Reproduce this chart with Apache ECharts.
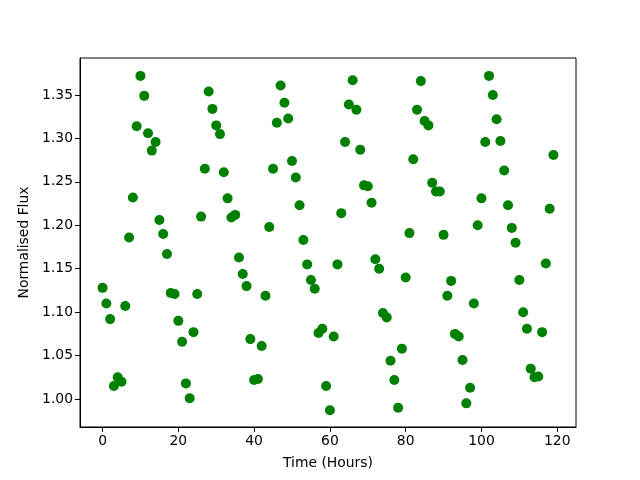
<!DOCTYPE html>
<html><head><meta charset="utf-8">
<script src="https://cdn.jsdelivr.net/npm/echarts@6/dist/echarts.min.js"></script>
<style>html,body{margin:0;padding:0;background:#fff}#c{width:640px;height:480px}</style>
</head><body><div id="c"></div>
<script>
const timeHours = Array.from({length:120},(_,i)=>i);
const flux = [
1.128,1.110,1.092,1.015,1.025,1.020,1.107,1.186,1.232,1.314,
1.372,1.349,1.306,1.286,1.296,1.206,1.190,1.167,1.122,1.121,
1.090,1.066,1.018,1.001,1.077,1.121,1.210,1.265,1.354,1.334,
1.315,1.305,1.261,1.231,1.209,1.212,1.163,1.144,1.130,1.069,
1.022,1.023,1.061,1.119,1.198,1.265,1.318,1.361,1.341,1.323,
1.274,1.255,1.223,1.183,1.155,1.137,1.127,1.076,1.081,1.015,
0.987,1.072,1.155,1.214,1.296,1.339,1.367,1.333,1.287,1.246,
1.245,1.226,1.161,1.150,1.099,1.094,1.044,1.022,0.990,1.058,
1.140,1.191,1.276,1.333,1.366,1.320,1.315,1.249,1.239,1.239,
1.189,1.119,1.136,1.075,1.072,1.045,0.995,1.013,1.110,1.200,
1.231,1.296,1.372,1.350,1.322,1.297,1.263,1.223,1.197,1.180,
1.137,1.100,1.081,1.035,1.025,1.026,1.077,1.156,1.219,1.281
];
const xTicks = [0,20,40,60,80,100,120];
const yTicks = [1.00,1.05,1.10,1.15,1.20,1.25,1.30,1.35];

const data = timeHours.map((t,i)=>[t,flux[i]]);
const chart = echarts.init(document.getElementById('c'),null,{renderer:'canvas'});
const font = 'DejaVu Sans';
chart.setOption({
  animation:false,
  backgroundColor:'#fff',
  grid:{left:80,right:64,top:58,bottom:53,show:true,borderColor:'#000',borderWidth:1,backgroundColor:'transparent'},
  xAxis:{type:'value',min:-5.95,max:124.95,
    name:'Time (Hours)',nameLocation:'middle',nameGap:29,
    nameTextStyle:{fontFamily:font,fontSize:13.9,color:'#000'},
    axisLine:{show:true,onZero:false,lineStyle:{color:'#000',width:1}},
    axisTick:{show:true,length:5,inside:false,lineStyle:{color:'#000'},customValues:xTicks},
    axisLabel:{fontFamily:font,fontSize:13.9,color:'#000',margin:7,customValues:xTicks,formatter:v=>String(v)},
    splitLine:{show:false}},
  yAxis:{type:'value',min:0.9678,max:1.3926,
    name:'Normalised Flux',nameLocation:'middle',nameGap:47,
    nameTextStyle:{fontFamily:font,fontSize:13.9,color:'#000'},
    axisLine:{show:true,onZero:false,lineStyle:{color:'#000',width:1}},
    axisTick:{show:true,length:5,inside:false,lineStyle:{color:'#000'},customValues:yTicks},
    axisLabel:{fontFamily:font,fontSize:13.9,color:'#000',margin:7,customValues:yTicks,formatter:v=>v.toFixed(2)},
    splitLine:{show:false}},
  series:[{type:'scatter',data:data,symbol:'circle',symbolSize:10,
    itemStyle:{color:'#008000',opacity:1}}]
});
</script></body></html>
